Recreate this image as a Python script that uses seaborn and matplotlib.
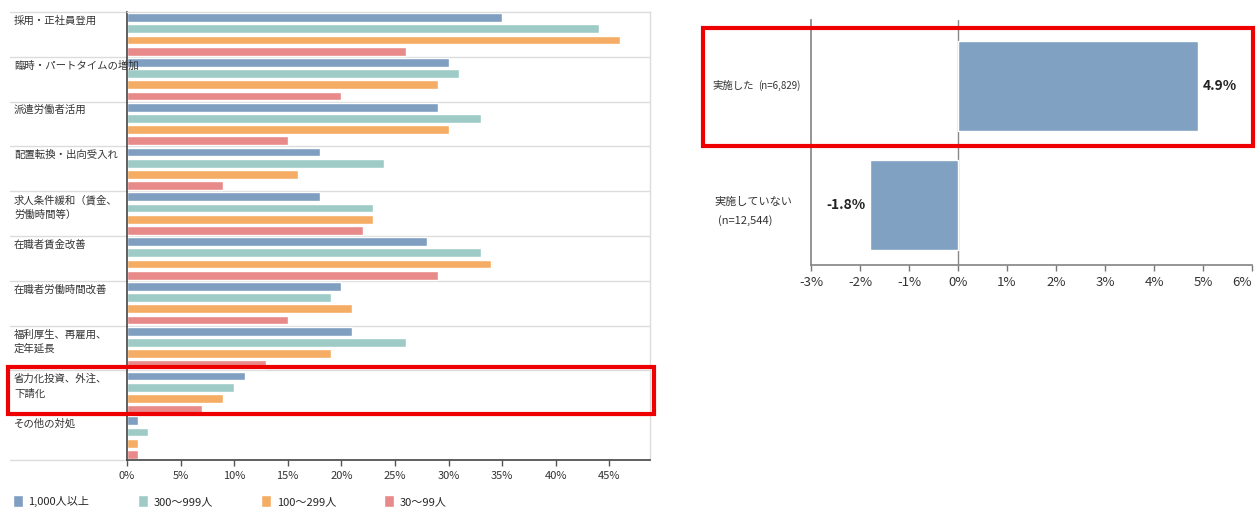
import matplotlib
matplotlib.use("Agg")
import matplotlib.pyplot as plt
import matplotlib.transforms as mtransforms
from matplotlib.patches import Rectangle
import pandas as pd
import seaborn as sns

# data
categories = ["採用・正社員登用", "臨時・パートタイムの増加", "派遣労働者活用", "配置転換・出向受入れ",
              "求人条件緩和（賃金、\n労働時間等）", "在職者賃金改善", "在職者労働時間改善",
              "福利厚生、再雇用、\n定年延長", "省力化投資、外注、\n下請化", "その他の対処"]
sizes = ["1,000人以上", "300～999人", "100～299人", "30～99人"]
v_1000 = [35, 30, 29, 18, 18, 28, 20, 21, 11, 1]
v_300 = [44, 31, 33, 24, 23, 33, 19, 26, 10, 2]
v_100 = [46, 29, 30, 16, 23, 34, 21, 19, 9, 1]
v_30 = [26, 20, 15, 9, 22, 29, 15, 13, 7, 1]
size_colors = ["#7f9ec0", "#9ecbc6", "#f5ad66", "#e88a8a"]

groups = ["実施した", "実施していない"]
group_n = ["(n=6,829)", "(n=12,544)"]
change = [4.9, -1.8]

rows = []
for s, vals in zip(sizes, [v_1000, v_300, v_100, v_30]):
    for c, v in zip(categories, vals):
        rows.append({"category": c, "size": s, "value": v})
df = pd.DataFrame(rows)
df2 = pd.DataFrame({"group": groups, "change": change})

sns.set_theme(style="white")
plt.rcParams["font.family"] = ["Noto Sans CJK JP", "DejaVu Sans"]

W, H = 1256, 508
fig = plt.figure(figsize=(W / 100, H / 100), dpi=100)

def box(l, t, r, b):
    return [l / W, 1 - b / H, (r - l) / W, (b - t) / H]

# ---- left chart ----
ax = fig.add_axes(box(127, 12, 650, 460))
sns.barplot(data=df, y="category", x="value", hue="size", order=categories, hue_order=sizes,
            palette=size_colors, width=1.0, gap=0.2, orient="h", ax=ax, saturation=1)
ax.set_xlim(0, 48.8)
ax.set_ylim(9.5, -0.5)
ax.set_xticks(range(0, 50, 5))
ax.set_xticklabels([f"{t}%" for t in range(0, 50, 5)], fontsize=8, color="#333333")
ax.set_yticks([])
ax.set_xlabel("")
ax.set_ylabel("")
ax.tick_params(axis="x", length=4, width=1, color="#555555", bottom=True, pad=4)
for side in ["top", "right"]:
    ax.spines[side].set_color("#dcdcdc")
    ax.spines[side].set_linewidth(1)
for side in ["left", "bottom"]:
    ax.spines[side].set_color("#444444")
    ax.spines[side].set_linewidth(1.2)

lab_tr = mtransforms.blended_transform_factory(fig.transFigure, ax.transData)
for i, c in enumerate(categories):
    ax.text(14 / W, i - 0.5 + 0.08, c, transform=lab_tr, fontsize=7.5, va="top", ha="left",
            color="#333333", linespacing=1.5)
sep_tr = mtransforms.blended_transform_factory(ax.transAxes, ax.transData)
for i in range(11):
    ax.plot([(10 - 127) / 523, 0], [i - 0.5, i - 0.5], transform=sep_tr, color="#dcdcdc",
            lw=1, clip_on=False)
    if 0 < i < 10:
        ax.plot([0, 1], [i - 0.5, i - 0.5], transform=sep_tr, color="#dcdcdc", lw=1, zorder=0)

sns.move_legend(ax, "center left", bbox_to_anchor=((13 - 127) / 523, -0.092), ncol=4,
                frameon=False, title=None, fontsize=8, handlelength=0.9, handleheight=1.3,
                handletextpad=0.5, columnspacing=4.35, borderpad=0, borderaxespad=0)

fig.patches.append(Rectangle((8 / W, 1 - 414 / H), 646 / W, 47 / H, transform=fig.transFigure,
                             fill=False, edgecolor="#ee0000", lw=3))

# ---- right chart ----
ax2 = fig.add_axes(box(811, 20, 1252, 265))
sns.barplot(data=df2, y="group", x="change", order=groups, color="#80a1c2", width=0.75,
            orient="h", ax=ax2, saturation=1)
ax2.set_xlim(-3, 6)
ax2.set_ylim(1.5, -0.55)
ax2.set_xticks(range(-3, 7))
ax2.set_xticklabels([f"{t}%" for t in range(-3, 7)], fontsize=9.5, color="#333333")
ax2.get_xticklabels()[-1].set_horizontalalignment("right")
ax2.set_yticks([])
ax2.set_xlabel("")
ax2.set_ylabel("")
ax2.tick_params(axis="x", length=4, width=1, color="#777777", bottom=True, pad=4)
ax2.spines["top"].set_visible(False)
ax2.spines["right"].set_visible(False)
ax2.spines["left"].set_color("#888888")
ax2.spines["bottom"].set_color("#888888")
ax2.axvline(0, color="#888888", lw=1, zorder=0)
for i, v in enumerate(change):
    if v >= 0:
        ax2.text(v + 0.1, i, f"{v:.1f}%", ha="left", va="center", fontsize=10,
                 fontweight="bold", color="#222222")
    else:
        ax2.text(v - 0.08, i, f"{v:.1f}%", ha="right", va="center", fontsize=10,
                 fontweight="bold", color="#222222")

lab2 = mtransforms.blended_transform_factory(fig.transFigure, ax2.transData)
ax2.text(712 / W, 0, groups[0], transform=lab2, fontsize=7.5, va="center", ha="left", color="#333333")
ax2.text(758 / W, 0, group_n[0], transform=lab2, fontsize=7, va="center", ha="left", color="#333333")
ax2.text(714 / W, 1 - 0.03, groups[1], transform=lab2, fontsize=8, va="center", ha="left", color="#333333")
ax2.text(718 / W, 1 + 0.13, group_n[1], transform=lab2, fontsize=8, va="center", ha="left", color="#333333")

fig.patches.append(Rectangle((703 / W, 1 - 146 / H), 550 / W, 118 / H, transform=fig.transFigure,
                             fill=False, edgecolor="#ee0000", lw=3))

fig.savefig("out.png", dpi=100)
